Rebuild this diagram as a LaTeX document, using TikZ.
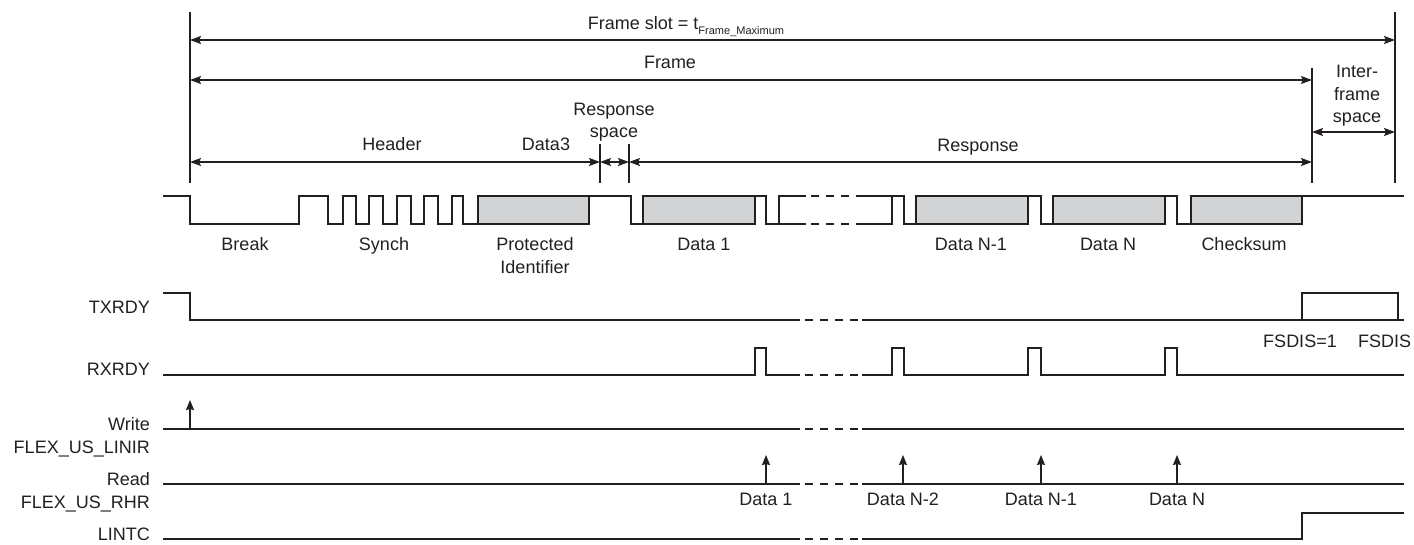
\documentclass[tikz,border=0pt]{standalone}
\usepackage{fontspec}
\setmainfont{Liberation Sans}
\usetikzlibrary{arrows.meta, positioning, calc}
\definecolor{ink}{RGB}{35,31,32}
\definecolor{bytegray}{RGB}{209,211,212}

\begin{document}
\begin{tikzpicture}[x=1pt, y=-1pt,
  every node/.style={font=\fontsize{18}{22}\selectfont, text=ink, inner sep=0pt},
  lbl/.style={anchor=base},
  siglbl/.style={anchor=base east},
  ext/.style={ink, line width=1.1pt},
  dim/.style={ink, line width=1.3pt, {Stealth[length=11pt,width=8pt,inset=2pt]}-{Stealth[length=11pt,width=8pt,inset=2pt]}},
  wave/.style={ink, line width=2.4pt, line join=miter},
  gap/.style={ink, line width=2.4pt, dash pattern=on 8pt off 7pt, dash phase=10pt},
  byte/.style={wave, fill=bytegray},
  event/.style={ink, line width=1.3pt, -{Stealth[length=10pt,width=8pt,inset=1pt]}}]
  \useasboundingbox (0,0) rectangle (1414,544);

  % time marks of the frame
  \coordinate (s0) at (190,183);
  \coordinate (r0) at (600,183);
  \coordinate (r1) at (629,183);
  \coordinate (f1) at (1312,183);
  \coordinate (s1) at (1395,183);
  \draw[ext] (190,12) -- (s0);
  \draw[ext] (1395,12) -- (s1);
  \draw[ext] (1312,68) -- (f1);
  \draw[ext] (600,144) -- (r0);
  \draw[ext] (629,144) -- (r1);

  \draw[dim] (s0 |- 0,40) -- (s1 |- 0,40);
  \draw[dim] (s0 |- 0,80) -- (f1 |- 0,80);
  \draw[dim] (s0 |- 0,162) -- (r0 |- 0,162);
  \draw[dim] (r0 |- 0,162) -- (r1 |- 0,162);
  \draw[dim] (r1 |- 0,162) -- (f1 |- 0,162);
  \draw[dim] (f1 |- 0,132) -- (s1 |- 0,132);

  \node[lbl] (slot) at (686,29) {Frame slot = t\raisebox{-5pt}{\fontsize{11}{12}\selectfont Frame\_Maximum}};
  \node[lbl] (frm) at (670,68) {Frame};
  \node[lbl] (hdr) at (392,150) {Header};
  \node[lbl] (d3) at (546,150) {Data3};
  \node[lbl] (rsp1) at (614,115) {Response};
  \node[lbl] (rsp2) at (614,137) {space};
  \node[lbl] (rsp) at (978,151) {Response};
  \node[lbl] (ifs1) at (1357,77) {Inter-};
  \node[lbl] (ifs2) at (1357,100) {frame};
  \node[lbl] (ifs3) at (1357,122) {space};

  % LIN bus
  \draw[wave] (163,196) -| (190,224) -| (299,196) -| (328,224) -| (343,196) -| (356,224)
    -| (369,196) -| (383,224) -| (397,196) -| (411,224) -| (424,196) -| (438,224)
    -| (452,196) -| (463,224) -- (478,224);
  \foreach \a/\b in {478/589, 643/755, 916/1028, 1053/1165, 1191/1302}
    \draw[byte] (\a,196) rectangle (\b,224);
  \draw[wave] (589,196) -| (631,224) -- (643,224);
  \draw[wave] (755,196) -| (766,224) -| (779,196) -- (806,196);
  \draw[wave] (779,224) -- (806,224);
  \draw[gap] (806,196) -- (868,196);
  \draw[gap] (806,224) -- (868,224);
  \draw[wave] (864,224) -| (892,196);
  \draw[wave] (864,196) -| (904,224) -- (916,224);
  \draw[wave] (1028,196) -| (1041,224) -- (1053,224);
  \draw[wave] (1165,196) -| (1177,224) -- (1191,224);
  \draw[wave] (1302,196) -- (1404,196);

  \node[lbl] (brk) at (245,250) {Break};
  \node[lbl] (syn) at (384,250) {Synch};
  \node[lbl] (pid1) at (535,250) {Protected};
  \node[lbl] (pid2) at (535,273) {Identifier};
  \node[lbl] (b1) at (704,250) {Data 1};
  \node[lbl] (bn1) at (971,250) {Data N-1};
  \node[lbl] (bn) at (1108,250) {Data N};
  \node[lbl] (chk) at (1244,250) {Checksum};

  % flags
  \node[siglbl] (tx) at (150,313) {TXRDY};
  \draw[wave] (163,293) -| (190,320) -- (800,320);
  \draw[gap] (800,320) -- (862,320);
  \draw[wave] (862,320) -- (1404,320);
  \draw[wave] (1302,320) |- (1398,293) -- (1398,320);
  \node[lbl] (fs1) at (1300,347) {FSDIS=1};
  \node[anchor=base west] (fs0) at (1358,347) {FSDIS};

  \node[siglbl] (rx) at (150,375) {RXRDY};
  \draw[wave] (163,375) -- (755,375) |- (766,348) -- (766,375) -- (800,375);
  \draw[gap] (800,375) -- (862,375);
  \draw[wave] (862,375) -- (892,375) |- (904,348) -- (904,375) -- (1028,375) |- (1041,348)
    -- (1041,375) -- (1165,375) |- (1177,348) -- (1177,375) -- (1404,375);

  \node[siglbl] (wr1) at (150,430) {Write};
  \node[siglbl] (wr2) at (150,453) {FLEX\_US\_LINIR};
  \draw[wave] (163,429) -- (800,429);
  \draw[gap] (800,429) -- (862,429);
  \draw[wave] (862,429) -- (1404,429);
  \coordinate (w0) at (190,429);
  \draw[event] (w0) -- ++(0,-29);

  \node[siglbl] (rd1) at (150,485) {Read};
  \node[siglbl] (rd2) at (150,508) {FLEX\_US\_RHR};
  \draw[wave] (163,484) -- (800,484);
  \draw[gap] (800,484) -- (862,484);
  \draw[wave] (862,484) -- (1404,484);
  \foreach \x/\t [count=\i] in {766/Data 1, 903/Data N-2, 1041/Data N-1, 1177/Data N} {
    \coordinate (e\i) at (\x,484);
    \draw[event] (e\i) -- ++(0,-29);
    \node[lbl] (rl\i) at (\x,505) {\t};
  }

  \node[siglbl] (lt) at (150,540) {LINTC};
  \draw[wave] (163,539) -- (800,539);
  \draw[gap] (800,539) -- (862,539);
  \draw[wave] (862,539) -| (1302,513) -- (1404,513);
\end{tikzpicture}
\end{document}
